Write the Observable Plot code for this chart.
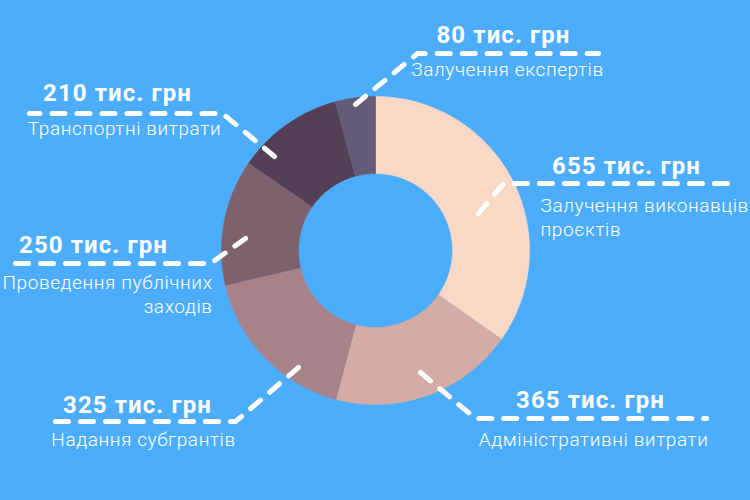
<!DOCTYPE html>
<html>
<head>
<meta charset="utf-8">
<script src="https://cdn.jsdelivr.net/npm/d3@7"></script>
<script src="https://cdn.jsdelivr.net/npm/@observablehq/plot@0.6"></script>
<style>
  html, body { margin: 0; padding: 0; background: #4DADFD; }
  #chart svg { display: block; }
</style>
</head>
<body>
<div id="chart"></div>
<script>
// ---- data ----
const categories = [
  "Залучення виконавців\nпроєктів",
  "Адміністративні витрати",
  "Надання субгрантів",
  "Проведення публічних\nзаходів",
  "Транспортні витрати",
  "Залучення експертів"
];
const values = [655, 365, 325, 250, 210, 80];
const valueLabels = ["655 тис. грн", "365 тис. грн", "325 тис. грн", "250 тис. грн", "210 тис. грн", "80 тис. грн"];

// ---- style / layout ----
const palette = ["#F9D8C5", "#D2ACA5", "#A78288", "#7F616E", "#553F55", "#645B76"];
const W = 750, H = 500;
const cx = 375, cy = 250, rOuter = 154, rInner = 77;
// annotation layout (chart units = pixels)
const labelLayout = [
  {anchor: [478, 213], knee: [503, 183], end: 735, vx: 626, vy: 173, lx: 540, ly: 235, la: "start"},
  {anchor: [420, 372], knee: [475, 418], end: 706, vx: 590, vy: 407, lx: 708, ly: 445, la: "end"},
  {anchor: [298, 367], knee: [235, 421], end: 54,  vx: 137, vy: 412, lx: 143, ly: 445, la: "middle"},
  {anchor: [245, 238], knee: [210, 263], end: 4,   vx: 93,  vy: 252, lx: 212, ly: 312, la: "end"},
  {anchor: [274, 156], knee: [222, 113], end: 29,  vx: 117, vy: 100, lx: 124, ly: 134, la: "middle"},
  {anchor: [355, 104], knee: [417, 53],  end: 598, vx: 503, vy: 42,  lx: 507, ly: 75,  la: "middle"}
];

// ---- build slices ----
const table = categories.map((c, i) => ({key: c, value: values[i], vlabel: valueLabels[i], ...labelLayout[i]}));
const arcs = d3.pie().sort(null).value(d => d.value).startAngle(0).endAngle(2 * Math.PI)(table);
const polyPts = [];
for (const a of arcs) {
  const n = Math.max(2, Math.ceil((a.endAngle - a.startAngle) / (Math.PI / 360)));
  for (let k = 0; k <= n; k++) {
    const t = a.startAngle + (a.endAngle - a.startAngle) * k / n;
    polyPts.push({key: a.data.key, x: cx + rOuter * Math.sin(t), y: cy - rOuter * Math.cos(t)});
  }
  for (let k = n; k >= 0; k--) {
    const t = a.startAngle + (a.endAngle - a.startAngle) * k / n;
    polyPts.push({key: a.data.key, x: cx + rInner * Math.sin(t), y: cy - rInner * Math.cos(t)});
  }
}
const leaderPts = table.flatMap(d => [
  {key: d.key, x: d.anchor[0], y: d.anchor[1]},
  {key: d.key, x: d.knee[0], y: d.knee[1]},
  {key: d.key, x: d.end, y: d.knee[1]}
]);

const labelMark = anchor => Plot.text(table.filter(d => d.la === anchor), {
  x: "lx", y: "ly", text: "key", fill: "white", fontSize: 19, fontWeight: 300,
  textAnchor: anchor, lineAnchor: "bottom", lineHeight: 1.22
});

const chart = Plot.plot({
  width: W, height: H,
  margin: 0,
  x: {domain: [0, W], range: [0, W], axis: null},
  y: {domain: [0, H], range: [0, H], axis: null},
  color: {domain: categories, range: palette},
  style: {background: "#4DADFD", fontFamily: "Roboto, 'Open Sans', sans-serif"},
  marks: [
    Plot.line(polyPts, {x: "x", y: "y", z: "key", fill: "key", stroke: "key", strokeWidth: 0.6, curve: "linear"}),
    Plot.line(leaderPts, {x: "x", y: "y", z: "key", stroke: "white", strokeWidth: 5,
      strokeDasharray: "13,12", strokeLinecap: "round", strokeLinejoin: "round"}),
    Plot.text(table, {x: "vx", y: "vy", text: "vlabel", fill: "white", fontSize: 24, fontWeight: "bold",
      textAnchor: "middle", lineAnchor: "bottom"}),
    labelMark("start"),
    labelMark("middle"),
    labelMark("end")
  ]
});
chart.querySelectorAll('g[font-weight="bold"]').forEach(g => g.setAttribute("letter-spacing", "1.1"));
chart.querySelectorAll('g[font-weight="300"]').forEach(g => g.setAttribute("letter-spacing", "0.6"));
document.getElementById("chart").appendChild(chart);
</script>
</body>
</html>
